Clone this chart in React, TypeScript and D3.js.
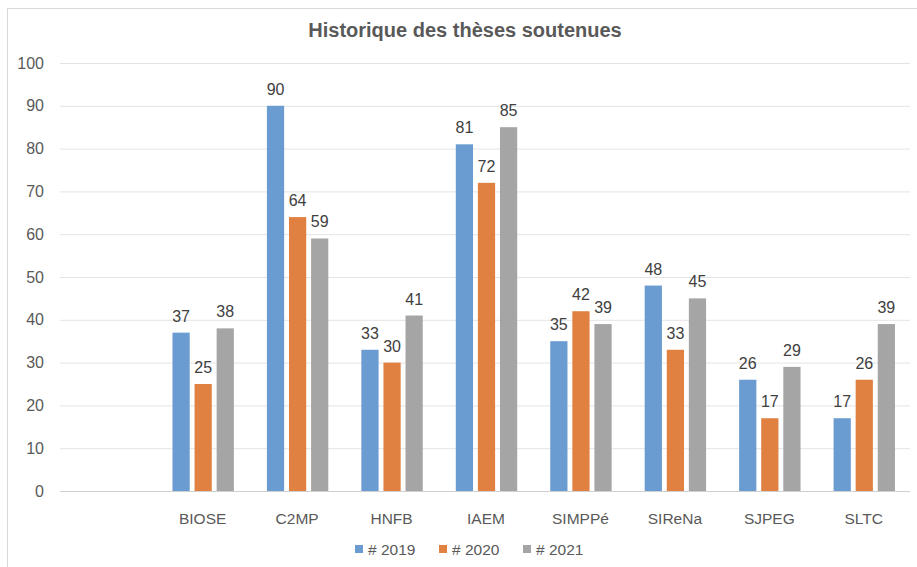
import * as d3 from 'd3';
import { useEffect, useRef } from 'react';

// Chart data
const categories = ['', 'BIOSE', 'C2MP', 'HNFB', 'IAEM', 'SIMPPé', 'SIReNa', 'SJPEG', 'SLTC'];
const seriesNames = ['# 2019', '# 2020', '# 2021'];
const values2019 = [null, 37, 90, 33, 81, 35, 48, 26, 17];
const values2020 = [null, 25, 64, 30, 72, 42, 33, 17, 26];
const values2021 = [null, 38, 59, 41, 85, 39, 45, 29, 39];
const yTicks = [0, 10, 20, 30, 40, 50, 60, 70, 80, 90, 100];
const colors = ['#6a9bd1', '#e08142', '#a5a5a5'];

export default function App() {
  const chartRef = useRef<SVGSVGElement | null>(null);

  const width = 917;
  const height = 567;
  const margin = { top: 64, bottom: 76, left: 60, right: 7 };

  useEffect(() => {
    const svg = d3.select(chartRef.current);
    svg.selectAll('*').remove();

    const font = "'Liberation Sans', Arial, sans-serif";
    const series = [values2019, values2020, values2021];

    // frame
    svg
      .append('rect')
      .attr('x', 7.5)
      .attr('y', 8.5)
      .attr('width', width)
      .attr('height', height)
      .attr('fill', 'white')
      .attr('stroke', '#d9d9d9');

    const xScale = d3
      .scaleBand()
      .domain(categories)
      .range([margin.left, width - margin.right]);
    const yScale = d3
      .scaleLinear()
      .domain([0, 100])
      .range([height - margin.bottom, margin.top - 1]);

    const groupW = xScale.bandwidth() * 0.65;
    const inner = d3
      .scaleBand()
      .domain(seriesNames)
      .range([0, groupW])
      .paddingInner(0.22);

    // gridlines
    svg
      .append('g')
      .selectAll('line')
      .data(yTicks)
      .enter()
      .append('line')
      .attr('x1', margin.left)
      .attr('x2', width - margin.right)
      .attr('y1', (d) => yScale(d) + 0.5)
      .attr('y2', (d) => yScale(d) + 0.5)
      .attr('stroke', (d) => (d === 0 ? '#d0d0d0' : '#e4e4e4'))
      .attr('stroke-width', 1);

    // y axis labels
    svg
      .append('g')
      .selectAll('text')
      .data(yTicks)
      .enter()
      .append('text')
      .text((d) => d)
      .attr('x', 44)
      .attr('y', (d) => yScale(d) + 5.5)
      .attr('text-anchor', 'end')
      .attr('font-size', 16)
      .attr('font-family', font)
      .attr('fill', '#595959');

    // bars + labels
    series.forEach((vals, s) => {
      const g = svg.append('g');
      const rows = categories.map((c, i) => ({ c, v: vals[i] })).filter((d) => d.v != null);
      const offset = (c: string) =>
        (xScale(c) as number) + (xScale.bandwidth() - groupW) / 2 + 1.5 + (inner(seriesNames[s]) as number);

      g.selectAll('rect')
        .data(rows)
        .enter()
        .append('rect')
        .attr('x', (d) => offset(d.c))
        .attr('y', (d) => yScale(d.v as number))
        .attr('width', inner.bandwidth())
        .attr('height', (d) => yScale(0) - yScale(d.v as number))
        .attr('fill', colors[s]);

      g.selectAll('text')
        .data(rows)
        .enter()
        .append('text')
        .text((d) => d.v as number)
        .attr('x', (d) => offset(d.c) + inner.bandwidth() / 2)
        .attr('y', (d) => yScale(d.v as number) - 11)
        .attr('text-anchor', 'middle')
        .attr('font-size', 16)
        .attr('font-family', font)
        .attr('fill', '#404040');
    });

    // category labels
    svg
      .append('g')
      .selectAll('text')
      .data(categories)
      .enter()
      .append('text')
      .text((d) => d)
      .attr('x', (d) => (xScale(d) as number) + xScale.bandwidth() / 2 + 1)
      .attr('y', 524)
      .attr('text-anchor', 'middle')
      .attr('font-size', 15.5)
      .attr('font-family', font)
      .attr('fill', '#595959');

    // legend
    const legendX = [355, 439, 523];
    const legend = svg
      .append('g')
      .selectAll('g')
      .data(seriesNames)
      .enter()
      .append('g')
      .attr('transform', (d, i) => `translate(${legendX[i]}, 549)`);
    legend
      .append('rect')
      .attr('x', 0)
      .attr('y', -4)
      .attr('width', 8)
      .attr('height', 8)
      .attr('fill', (d, i) => colors[i]);
    legend
      .append('text')
      .text((d) => d)
      .attr('x', 13)
      .attr('y', 5.5)
      .attr('font-size', 15.5)
      .attr('font-family', font)
      .attr('fill', '#595959');

    // title
    svg
      .append('text')
      .text('Historique des thèses soutenues')
      .attr('x', 465)
      .attr('y', 37)
      .attr('text-anchor', 'middle')
      .attr('font-size', 20)
      .attr('font-weight', 'bold')
      .attr('font-family', font)
      .attr('fill', '#595959');
  }, []);

  return (
    <svg
      ref={chartRef}
      width={width}
      height={height}
      style={{ position: 'absolute', left: 0, top: 0 }}
    />
  );
}
